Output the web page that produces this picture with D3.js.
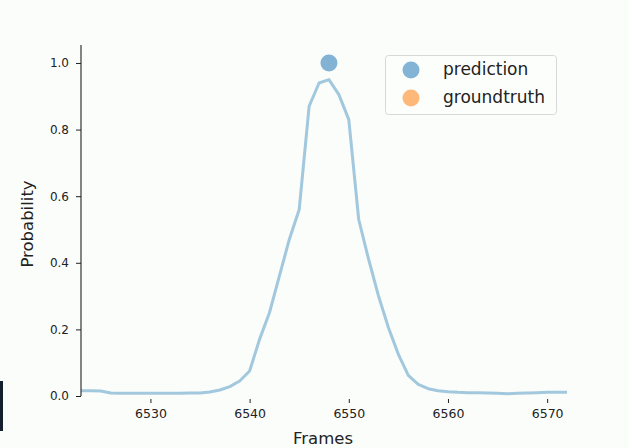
<!DOCTYPE html>
<html>
<head>
<meta charset="utf-8">
<script src="https://cdn.jsdelivr.net/npm/d3@7"></script>
<style>
  html, body { margin: 0; padding: 0; background: #fbfdfb; }
  svg { display: block; font-family: "DejaVu Sans", sans-serif; }
</style>
</head>
<body>
<svg id="chart" width="629" height="448"></svg>
<script>
// ---- data ----
const frames = [6523,6524,6525,6526,6527,6528,6529,6530,6531,6532,6533,6534,6535,6536,6537,6538,6539,6540,
  6541,6542,6543,6544,6545,6546,6547,6548,6549,6550,6551,6552,6553,6554,6555,6556,6557,6558,6559,6560,
  6561,6562,6563,6564,6565,6566,6567,6568,6569,6570,6571,6572];
const probability = [0.016,0.016,0.015,0.009,0.008,0.008,0.008,0.008,0.008,0.008,0.008,0.009,0.009,0.012,0.018,0.028,0.045,0.075,
  0.17,0.25,0.36,0.47,0.56,0.87,0.94,0.95,0.905,0.83,0.53,0.41,0.30,0.205,0.125,0.062,0.035,0.022,0.016,0.013,
  0.011,0.010,0.010,0.009,0.008,0.007,0.008,0.009,0.010,0.011,0.011,0.011];
const predictionFrames = [6548];
const predictionValues = [1.0];
const groundtruthFrames = [];
const groundtruthValues = [];
const xTicks = [6530, 6540, 6550, 6560, 6570];
const yTicks = [0.0, 0.2, 0.4, 0.6, 0.8, 1.0];
const legendLabels = ["prediction", "groundtruth"];
const legendColors = ["#1f77b4", "#ff7f0e"];

// ---- layout ----
const svg = d3.select("#chart");
const x = d3.scaleLinear().domain([6523, 6572]).range([81, 567]);
const y = d3.scaleLinear().domain([0, 1.054]).range([396, 45]);

// artifact strip bottom-left
svg.append("rect").attr("x", 0).attr("y", 381).attr("width", 3).attr("height", 50).attr("fill", "#15202e");

// line
const line = d3.line().x((d, i) => x(frames[i])).y(d => y(d));
svg.append("path")
  .datum(probability)
  .attr("d", line)
  .attr("fill", "none")
  .attr("stroke", "#1f77b4")
  .attr("stroke-opacity", 0.4)
  .attr("stroke-width", 3)
  .attr("stroke-linejoin", "round");

// scatter points
svg.append("g").selectAll("circle.gt")
  .data(groundtruthValues)
  .join("circle")
  .attr("cx", (d, i) => x(groundtruthFrames[i]))
  .attr("cy", d => y(d))
  .attr("r", 8.5)
  .attr("fill", "#ff7f0e").attr("fill-opacity", 0.5);
svg.append("g").selectAll("circle.pred")
  .data(predictionValues)
  .join("circle")
  .attr("cx", (d, i) => x(predictionFrames[i]))
  .attr("cy", d => y(d))
  .attr("r", 8.5)
  .attr("fill", "#1f77b4").attr("fill-opacity", 0.55);

// y axis
const yAxis = svg.append("g")
  .attr("transform", "translate(81,0)")
  .call(d3.axisLeft(y).tickValues(yTicks).tickFormat(d3.format(".1f")).tickSize(5).tickPadding(7));
yAxis.select(".domain").attr("d", `M0,${y(0)}V45`).attr("stroke", "#222").attr("stroke-width", 1.1);
yAxis.selectAll(".tick line").attr("stroke", "#222");
yAxis.selectAll(".tick text").attr("font-size", 12).attr("fill", "#222")
  .attr("font-family", "DejaVu Sans, sans-serif");

// x axis (no spine)
const xAxis = svg.append("g")
  .attr("transform", "translate(0,399)")
  .call(d3.axisBottom(x).tickValues(xTicks).tickFormat(d3.format("d")).tickSize(4));
xAxis.select(".domain").remove();
xAxis.selectAll(".tick line").attr("stroke", "#222");
xAxis.selectAll(".tick text").attr("font-size", 12.5).attr("fill", "#222")
  .attr("y", 19).attr("dy", 0).attr("font-family", "DejaVu Sans, sans-serif");

// axis labels
svg.append("text")
  .attr("x", 323).attr("y", 444)
  .attr("text-anchor", "middle")
  .attr("font-size", 16.5).attr("fill", "#222")
  .text("Frames");
svg.append("text")
  .attr("transform", "translate(33,224) rotate(-90)")
  .attr("text-anchor", "middle")
  .attr("font-size", 16.5).attr("fill", "#222")
  .text("Probability");

// legend
const lg = svg.append("g");
lg.append("rect")
  .attr("x", 385.5).attr("y", 55.5).attr("width", 171).attr("height", 59)
  .attr("rx", 3).attr("fill", "#fdfefd").attr("fill-opacity", 0.8)
  .attr("stroke", "#d8d8d8");
const items = lg.selectAll("g.item").data(legendLabels).join("g")
  .attr("transform", (d, i) => `translate(0,${70 + i * 28})`);
items.append("circle")
  .attr("cx", 411).attr("cy", 0).attr("r", 8.5)
  .attr("fill", (d, i) => legendColors[i]).attr("fill-opacity", 0.55);
items.append("text")
  .attr("x", 443).attr("y", 0).attr("dy", "0.32em")
  .attr("font-size", 17).attr("fill", "#222")
  .text(d => d);
</script>
</body>
</html>
